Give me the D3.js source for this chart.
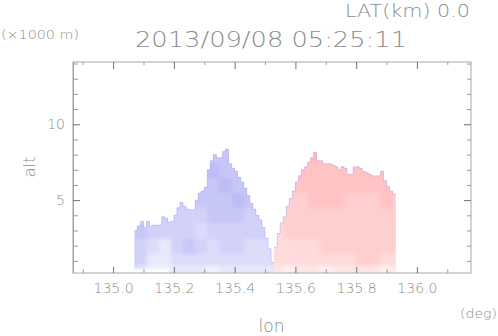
<!DOCTYPE html>
<html><head><meta charset="utf-8">
<script src="https://cdn.jsdelivr.net/npm/d3@7"></script>
<style>body{margin:0;background:#fff}svg{display:block}text{font-family:"DejaVu Sans",sans-serif;font-weight:200;fill:#8c8c8c}</style>
</head><body>
<svg id="c" width="498" height="336"></svg>
<script>
// ---- axes / ticks ----
const xDomain = [134.868, 136.178];
const yDomain = [0.2, 14.1];
const xMajorTicks = [135.0, 135.2, 135.4, 135.6, 135.8, 136.0];
const xMinorTicks = [134.9, 135.1, 135.3, 135.5, 135.7, 135.9, 136.1];
const yMajorTicks = [5, 10];
const yMinorTicks = [1, 2, 3, 4, 6, 7, 8, 9, 11, 12, 13, 14];

// ---- echo outlines (lon of column start, top / base altitude km) ----
const blueLon = [135.07,135.08,135.09,135.10,135.11,135.12,135.13,135.14,135.15,135.16,135.17,135.18,135.19,135.20,135.21,135.22,135.23,135.24,135.25,135.26,135.27,135.28,135.29,135.30,135.31,135.32,135.33,135.34,135.35,135.36,135.37,135.38,135.39,135.40,135.41,135.42,135.43,135.44,135.45,135.46,135.47,135.48,135.49,135.50,135.51,135.52];
const blueTop = [3.0,3.3,3.6,3.2,3.6,3.3,3.35,3.35,3.35,3.9,3.8,3.55,3.6,4.0,4.5,4.85,4.6,4.4,4.35,4.35,5.0,5.45,5.6,5.85,7.0,7.6,8.0,7.8,7.8,8.2,8.35,7.4,7.1,6.9,6.5,6.2,5.8,5.3,4.8,4.4,4.0,3.7,3.2,2.5,1.8,0.9];
const blueBase = [0.45,0.45,0.45,0.45,0.45,0.45,0.45,0.45,0.45,0.45,0.45,0.2,0.2,0.2,0.2,0.2,0.2,0.2,0.2,0.2,0.2,0.2,0.2,0.2,0.2,0.2,0.2,0.2,0.2,0.2,0.2,0.2,0.2,0.2,0.2,0.2,0.2,0.2,0.2,0.2,0.2,0.2,0.2,0.2,0.2,0.2];
const redLon = [135.53,135.54,135.55,135.56,135.57,135.58,135.59,135.60,135.61,135.62,135.63,135.64,135.65,135.66,135.67,135.68,135.69,135.70,135.71,135.72,135.73,135.74,135.75,135.76,135.77,135.78,135.79,135.80,135.81,135.82,135.83,135.84,135.85,135.86,135.87,135.88,135.89,135.90,135.91,135.92];
const redTop = [1.9,2.8,3.5,3.9,4.6,5.1,5.6,6.2,6.6,7.0,7.2,7.5,7.8,8.15,7.6,7.6,7.4,7.4,7.4,7.3,7.2,7.0,7.2,7.1,6.7,6.7,7.2,7.2,7.1,6.9,6.8,6.7,6.6,6.6,6.6,6.9,6.3,5.9,5.6,5.4];
const redBase = [0.3,0.25,0.2,0.2,0.2,0.2,0.2,0.2,0.2,0.2,0.2,0.2,0.2,0.2,0.2,0.2,0.2,0.2,0.2,0.2,0.2,0.2,0.2,0.2,0.2,0.2,0.2,0.2,0.2,0.2,0.2,0.2,0.2,0.2,0.2,0.2,0.2,0.2,0.2,0.2];

// ---- velocity grid (m/s), altitude band edges (km) ----
const gridAltEdges = [0.2, 0.7, 1.5, 2.5, 3.5, 4.5, 5.5, 6.5, 7.5, 9.0];
const blueGridLon = [135.07,135.11,135.15,135.19,135.23,135.27,135.31,135.35,135.39,135.43,135.47,135.51,135.55];
const blueGrid = [ // bottom band first
  [-2,-1,-1,-2,-2,-2,-1,-2,-2,-2,-2,-2],
  [-4,-2,-2,-3,-3,-3,-3,-3,-3,-3,-3,-3],
  [-4,-3,-2,-4,-5,-4,-3,-4,-4,-3,-3,-3],
  [-5,-4,-4,-4,-4,-3,-4,-4,-4,-4,-4,-3],
  [-4,-4,-4,-4,-4,-4,-5,-5,-5,-4,-4,-4],
  [-4,-4,-4,-4,-4,-5,-5,-5,-6,-5,-4,-4],
  [-5,-5,-5,-5,-5,-5,-5,-6,-5,-5,-5,-5],
  [-5,-5,-5,-5,-5,-5,-6,-5,-5,-5,-5,-5],
  [-5,-5,-5,-5,-5,-5,-5,-5,-5,-5,-5,-5]
];
const redGridLon = [135.52,135.56,135.60,135.64,135.68,135.72,135.76,135.80,135.84,135.88,135.92,135.96];
const redGrid = [
  [2,1,2,2,1,2,2,2,2,1,2],
  [3,3,3,3,3,3,3,4,4,3,3],
  [3,3,3,3,4,4,4,4,4,4,4],
  [3,4,4,4,4,4,4,4,4,4,4],
  [3,4,4,4,4,4,4,4,4,4,4],
  [4,4,4,5,5,5,4,4,4,5,4],
  [4,5,5,5,5,5,5,5,5,5,5],
  [4,5,5,5,5,5,5,5,5,5,5],
  [5,5,5,6,5,5,5,5,5,5,5]
];

const svg = d3.select("#c");
const x = d3.scaleLinear().domain(xDomain).range([73, 471]);
const y = d3.scaleLinear().domain(yDomain).range([273, 62]);
const color = d3.scaleLinear().domain([-12, 0, 12]).range(["#7878ec", "#ffffff", "#ff7070"]);

const defs = svg.append("defs");
defs.append("filter").attr("id", "soft").attr("x", "-10%").attr("y", "-10%").attr("width", "120%").attr("height", "120%")
  .append("feGaussianBlur").attr("stdDeviation", 2.2);

function blob(id, lons, tops, bases, gridLon, grid, baseVal) {
  const pts = lons.map((l, i) => ({lon: l, top: tops[i], base: bases[i]}));
  const last = pts[pts.length - 1];
  pts.push({lon: +(last.lon + (lons[1] - lons[0])).toFixed(3), top: last.top, base: last.base});
  const area = d3.area().curve(d3.curveStepAfter)
    .x(d => x(d.lon)).y0(d => y(d.base)).y1(d => y(d.top));
  defs.append("clipPath").attr("id", id).append("path").attr("d", area(pts));
  const g = svg.append("g").attr("clip-path", `url(#${id})`);
  g.append("path").attr("d", area(pts)).attr("fill", color(baseVal));
  const gs = g.append("g").attr("filter", "url(#soft)");
  grid.forEach((row, r) => {
    row.forEach((v, c) => {
      const x0 = x(gridLon[c]), x1 = x(gridLon[c + 1]);
      const y0 = y(gridAltEdges[r + 1]), y1 = y(gridAltEdges[r]);
      gs.append("rect").attr("x", x0).attr("y", y0 - 0.5)
        .attr("width", x1 - x0 + 0.5).attr("height", y1 - y0 + 1)
        .attr("fill", color(v)).attr("shape-rendering", "crispEdges");
    });
  });
  const line = d3.line().curve(d3.curveStepAfter).x(d => x(d.lon)).y(d => y(d.top));
  svg.append("path").attr("d", line(pts)).attr("fill", "none")
    .attr("stroke", "#7a7aff").attr("stroke-opacity", 0.3).attr("stroke-width", 1);
}
blob("clipBlue", blueLon, blueTop, blueBase, blueGridLon, blueGrid, -4);
blob("clipRed", redLon, redTop, redBase, redGridLon, redGrid, 4);

// ---- frame ----
svg.append("rect").attr("x", 73).attr("y", 62).attr("width", 398).attr("height", 211)
  .attr("fill", "none").attr("stroke", "#c8c8c8").attr("stroke-width", 1.6);
svg.append("line").attr("x1", 73.5).attr("x2", 73.5).attr("y1", 62).attr("y2", 273)
  .attr("stroke", "#a0a0a0").attr("stroke-width", 1);

function styleAxis(g) {
  g.select(".domain").remove();
  g.selectAll(".tick line").attr("stroke", "#707070");
  g.selectAll(".tick text").attr("font-size", 14).attr("fill", "#8c8c8c")
    .attr("font-family", "DejaVu Sans");
}
function minorStyle(g) {
  g.select(".domain").remove();
  g.selectAll(".tick line").attr("stroke", "#9a9a9a");
  g.selectAll(".tick text").remove();
}
svg.append("g").attr("transform", "translate(0,273)")
  .call(d3.axisBottom(x).tickValues(xMajorTicks).tickFormat(d3.format(".1f")).tickSize(-6).tickPadding(10)).call(styleAxis);
svg.append("g").attr("transform", "translate(0,273)")
  .call(d3.axisBottom(x).tickValues(xMinorTicks).tickSize(-4)).call(minorStyle);
svg.append("g").attr("transform", "translate(0,62)")
  .call(d3.axisTop(x).tickValues(xMajorTicks).tickSize(-7).tickFormat("")).call(styleAxis);
svg.append("g").attr("transform", "translate(0,62)")
  .call(d3.axisTop(x).tickValues(xMinorTicks).tickSize(-3)).call(minorStyle);
svg.append("g").attr("transform", "translate(73,0)")
  .call(d3.axisLeft(y).tickValues(yMajorTicks).tickSize(-7).tickPadding(8)).call(styleAxis);
svg.append("g").attr("transform", "translate(73,0)")
  .call(d3.axisLeft(y).tickValues(yMinorTicks).tickSize(-5)).call(minorStyle);
svg.append("g").attr("transform", "translate(471,0)")
  .call(d3.axisRight(y).tickValues(yMajorTicks).tickSize(-7).tickFormat("")).call(styleAxis);
svg.append("g").attr("transform", "translate(471,0)")
  .call(d3.axisRight(y).tickValues(yMinorTicks).tickSize(-4)).call(minorStyle);

// ---- texts ----
function txt(s, xx, yy, size, len, anchor) {
  return svg.append("text").attr("x", xx).attr("y", yy).attr("font-size", size)
    .attr("text-anchor", anchor || "start").attr("textLength", len)
    .attr("lengthAdjust", "spacingAndGlyphs").text(s);
}
txt("LAT(km) 0.0", 345, 17, 18, 125);
txt("2013/09/08 05:25:11", 135, 47, 21, 272);
txt("(×1000 m)", 1, 39, 12, 78);
txt("(deg)", 460, 318, 13, 37);
txt("lon", 271.5, 332, 17, 26, "middle");
svg.append("text").attr("transform", "translate(35,167) rotate(-90)")
  .attr("font-size", 15).attr("text-anchor", "middle").attr("textLength", 21)
  .attr("lengthAdjust", "spacingAndGlyphs").text("alt");
</script>
</body></html>
